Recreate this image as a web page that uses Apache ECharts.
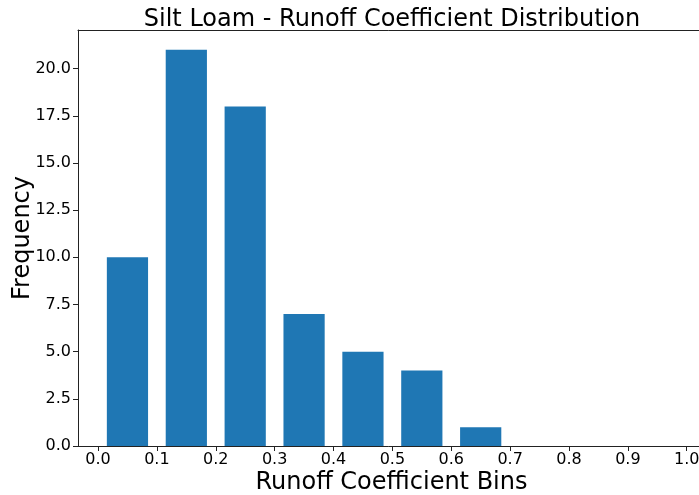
<!DOCTYPE html>
<html>
<head>
<meta charset="utf-8">
<script src="https://cdn.jsdelivr.net/npm/echarts@6/dist/echarts.min.js"></script>
<style>
  html, body { margin: 0; padding: 0; background: #fff; }
  #chart { width: 699px; height: 495px; }
</style>
</head>
<body>
<div id="chart"></div>
<script>
// Histogram bins (left edges, width 0.1) and counts
const binStarts = [0.0, 0.1, 0.2, 0.3, 0.4, 0.5, 0.6, 0.7, 0.8, 0.9];
const binWidth = 0.1;
const counts = [10, 21, 18, 7, 5, 4, 1, 0, 0, 0];
const xTicks = [0.0, 0.1, 0.2, 0.3, 0.4, 0.5, 0.6, 0.7, 0.8, 0.9, 1.0];
const barFraction = 0.7; // relative bar width within each bin

const FONT = 'DejaVu Sans';
const chart = echarts.init(document.getElementById('chart'), null, { renderer: 'canvas' });

const seriesData = binStarts.map((s, i) => [s, s + binWidth, counts[i]]);

chart.setOption({
  animation: false,
  backgroundColor: '#ffffff',
  title: {
    text: 'Silt Loam - Runoff Coefficient Distribution',
    left: 387, top: 3, textAlign: 'center',
    textStyle: { fontFamily: FONT, fontSize: 24, fontWeight: 'normal', color: '#000' }
  },
  grid: { left: 78, top: 30, right: -6, bottom: 49, containLabel: false, outerBoundsMode: 'none' },
  xAxis: [{
    type: 'value', min: -0.034, max: 1.031,
    name: 'Runoff Coefficient Bins', nameLocation: 'middle', nameGap: 25, nameMoveOverlap: false,
    nameTextStyle: { fontFamily: FONT, fontSize: 24, color: '#000' },
    axisLine: { show: true, onZero: false, lineStyle: { color: '#222', width: 1 } },
    axisTick: { show: true, length: 5, lineStyle: { color: '#222' }, customValues: xTicks },
    axisLabel: { fontFamily: FONT, fontSize: 16, color: '#000', margin: 6,
      customValues: xTicks, formatter: v => v.toFixed(1) },
    splitLine: { show: false }
  }, {
    type: 'value', position: 'top', min: -0.034, max: 1.031,
    axisLine: { show: true, onZero: false, lineStyle: { color: '#222', width: 1 } },
    axisTick: { show: false }, axisLabel: { show: false }, splitLine: { show: false }
  }],
  yAxis: {
    type: 'value', min: 0, max: 22.05, interval: 2.5,
    name: 'Frequency', nameLocation: 'middle', nameGap: 43, nameRotate: 90, nameMoveOverlap: false,
    nameTextStyle: { fontFamily: FONT, fontSize: 24, color: '#000' },
    axisLine: { show: true, onZero: false, lineStyle: { color: '#222', width: 1 } },
    axisTick: { show: true, length: 5, lineStyle: { color: '#222' } },
    axisLabel: { fontFamily: FONT, fontSize: 16, color: '#000', margin: 7,
      showMaxLabel: false,
      formatter: v => (Math.abs(v / 2.5 - Math.round(v / 2.5)) < 1e-6 ? v.toFixed(1) : '') },
    splitLine: { show: false }
  },
  series: [{
    type: 'custom',
    xAxisIndex: 0,
    data: seriesData,
    renderItem: function (params, api) {
      const x0 = api.value(0), x1 = api.value(1), h = api.value(2);
      const pad = (x1 - x0) * (1 - barFraction) / 2;
      const p0 = api.coord([x0 + pad, 0]);
      const p1 = api.coord([x1 - pad, h]);
      return {
        type: 'rect',
        shape: { x: p0[0], y: p1[1], width: p1[0] - p0[0], height: p0[1] - p1[1] },
        style: { fill: '#1f77b4' }
      };
    },
    encode: { x: [0, 1], y: 2 }
  }]
});
</script>
</body>
</html>
